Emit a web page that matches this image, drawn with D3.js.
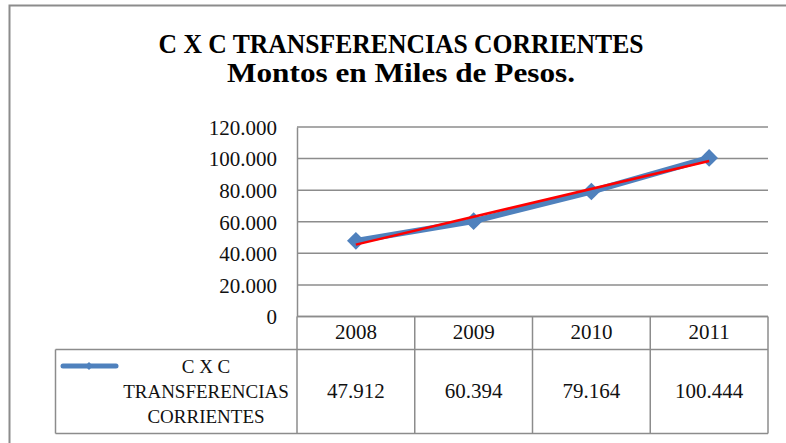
<!DOCTYPE html>
<html>
<head>
  <meta charset="UTF-8">
  <style>
    body { margin: 0; background: #ffffff; }
    svg { display: block; }
  </style>
</head>
<body>
<svg></svg>
<script src="https://d3js.org/d3.v7.min.js"></script>
<script>
// chart data
let years = ["2008", "2009", "2010", "2011"];
let montos = [47912, 60394, 79164, 100444];
let yTicks = [0, 20000, 40000, 60000, 80000, 100000, 120000];
let serieNombre = ["C X C", "TRANSFERENCIAS", "CORRIENTES"];
let titulo = ["C X C TRANSFERENCIAS CORRIENTES", "Montos en Miles de Pesos."];

let width = 786, height = 443;
let gris = "#8c8c8c", azul = "#4f81bd";
let fuente = "'Liberation Serif', 'DejaVu Serif', serif";

let svg = d3.select("svg").attr("width", width).attr("height", height);

// Spanish number format: 120.000
let es = d3.formatLocale({ decimal: ",", thousands: ".", grouping: [3], currency: ["$", ""] });
let fmt = es.format(",d");

// outer chart frame (runs off the right and bottom edge)
svg.append("rect")
  .attr("x", 9.5).attr("y", 5.5)
  .attr("width", 820).attr("height", 500)
  .attr("fill", "none").attr("stroke", gris).attr("stroke-width", 2);

// title
svg.selectAll(".titulo")
  .data(titulo)
  .enter()
  .append("text")
  .attr("x", 401)
  .attr("y", (d, i) => 53 + i * 29)
  .attr("text-anchor", "middle")
  .attr("textLength", (d, i) => i == 0 ? 485 : 348)
  .attr("lengthAdjust", "spacingAndGlyphs")
  .style("font-family", fuente)
  .style("font-weight", "bold")
  .style("font-size", "27px")
  .text(d => d);

// scales
let x = d3.scaleBand().domain(years).range([297, 768]);
let y = d3.scaleLinear().domain([0, 120000]).range([316.5, 127]);

// gridlines
svg.append("g")
  .selectAll("line")
  .data(yTicks)
  .enter()
  .append("line")
  .attr("x1", 297).attr("x2", 768)
  .attr("y1", d => y(d)).attr("y2", d => y(d))
  .attr("stroke", gris).attr("stroke-width", 1.5);

// y axis with labels only
let yAxis = svg.append("g")
  .attr("transform", "translate(297,0)")
  .call(d3.axisLeft(y).tickValues(yTicks).tickFormat(fmt).tickSize(0).tickPadding(20));
yAxis.select(".domain").attr("stroke", gris).attr("stroke-width", 1.5);
yAxis.selectAll("text")
  .style("font-family", fuente)
  .style("font-size", "21px")
  .attr("fill", "#111")
  .attr("dy", "0.35em");

// data table
let headTop = 316.5, headBot = 349.5, rowBot = 433.5, tableLeft = 55.5;
let tabla = svg.append("g").attr("fill", "none").attr("stroke", gris).attr("stroke-width", 1.5);
tabla.append("line").attr("x1", 297).attr("x2", 768).attr("y1", headTop).attr("y2", headTop);
tabla.append("line").attr("x1", tableLeft).attr("x2", 768).attr("y1", headBot).attr("y2", headBot);
tabla.append("line").attr("x1", tableLeft).attr("x2", 768).attr("y1", rowBot).attr("y2", rowBot);
tabla.append("line").attr("x1", tableLeft).attr("x2", tableLeft).attr("y1", headBot).attr("y2", rowBot);
tabla.selectAll(".col")
  .data(years.map(d => x(d)).concat([768]))
  .enter()
  .append("line")
  .attr("x1", d => d).attr("x2", d => d)
  .attr("y1", headTop).attr("y2", rowBot);

svg.append("g")
  .selectAll("text")
  .data(years)
  .enter()
  .append("text")
  .attr("x", d => x(d) + x.bandwidth() / 2)
  .attr("y", 339)
  .attr("text-anchor", "middle")
  .style("font-family", fuente)
  .style("font-size", "21px")
  .attr("fill", "#111")
  .text(d => d);

svg.append("g")
  .selectAll("text")
  .data(montos)
  .enter()
  .append("text")
  .attr("x", (d, i) => x(years[i]) + x.bandwidth() / 2)
  .attr("y", 398)
  .attr("text-anchor", "middle")
  .style("font-family", fuente)
  .style("font-size", "21px")
  .attr("fill", "#111")
  .text(d => fmt(d));

// legend cell
svg.append("line")
  .attr("x1", 63).attr("x2", 116).attr("y1", 366).attr("y2", 366)
  .attr("stroke", azul).attr("stroke-width", 5).attr("stroke-linecap", "round");
svg.append("path")
  .attr("d", d3.symbol().type(d3.symbolDiamond2).size(40))
  .attr("transform", "translate(89,366)")
  .attr("fill", azul);
svg.append("g")
  .selectAll("text")
  .data(serieNombre)
  .enter()
  .append("text")
  .attr("x", 206)
  .attr("y", (d, i) => 373 + i * 25)
  .attr("text-anchor", "middle")
  .style("font-family", fuente)
  .style("font-size", "19px")
  .attr("fill", "#111")
  .text(d => d);

// series line and markers
let cx = d => x(d) + x.bandwidth() / 2;
let linea = d3.line().x((d, i) => cx(years[i])).y(d => y(d));
svg.append("path")
  .datum(montos)
  .attr("d", linea)
  .attr("fill", "none")
  .attr("stroke", azul)
  .attr("stroke-width", 6);
svg.append("g")
  .selectAll("path")
  .data(montos)
  .enter()
  .append("path")
  .attr("d", d3.symbol().type(d3.symbolDiamond2).size(200))
  .attr("transform", (d, i) => `translate(${cx(years[i])},${y(d)})`)
  .attr("fill", azul);

// linear trendline (least squares over the series)
let idx = montos.map((d, i) => i);
let mx = d3.mean(idx), my = d3.mean(montos);
let slope = d3.sum(idx, i => (i - mx) * (montos[i] - my)) / d3.sum(idx, i => (i - mx) * (i - mx));
let ajuste = i => my + slope * (i - mx);
svg.append("line")
  .attr("x1", cx(years[0])).attr("y1", y(ajuste(0)))
  .attr("x2", cx(years[3])).attr("y2", y(ajuste(3)))
  .attr("stroke", "#ff0000")
  .attr("stroke-width", 2.5);
</script>
</body>
</html>
